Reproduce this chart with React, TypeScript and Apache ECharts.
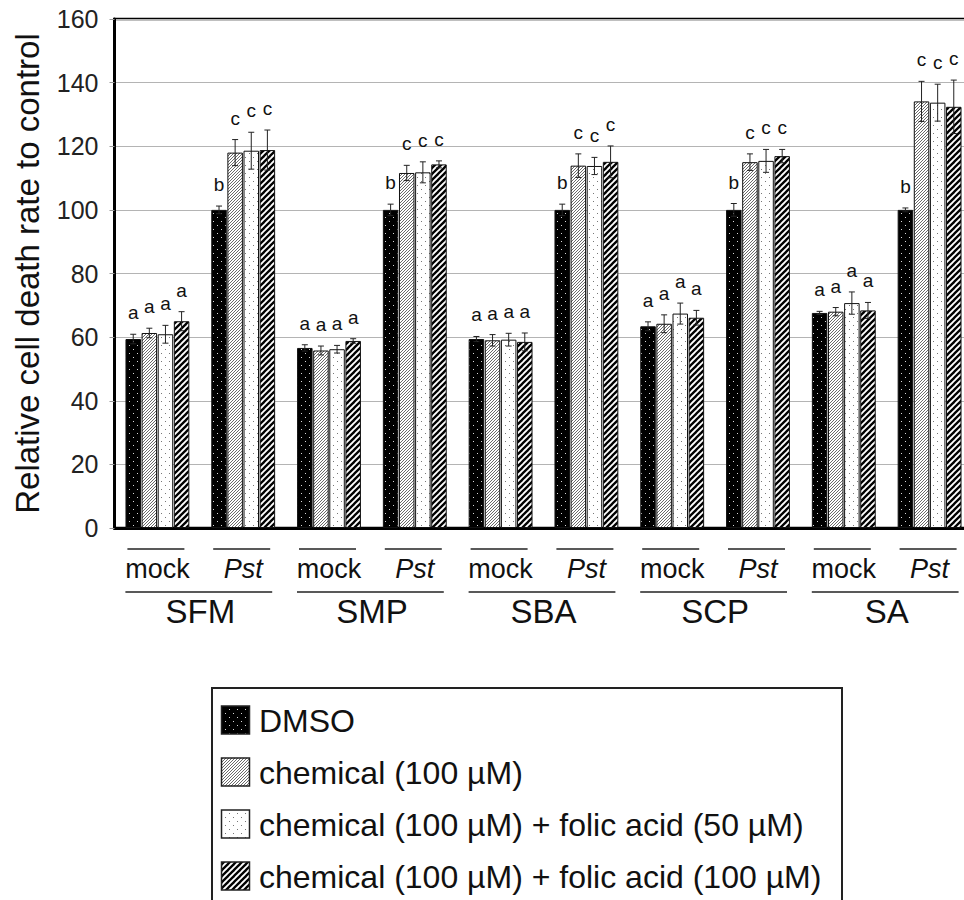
import React, { useEffect, useRef } from 'react';
import * as echarts from 'echarts';

const FONT = '"Liberation Sans", Arial, Helvetica, sans-serif';

const categories = ['mock', 'Pst', 'mock', 'Pst', 'mock', 'Pst', 'mock', 'Pst', 'mock', 'Pst'];
const groups = ['SFM', 'SMP', 'SBA', 'SCP', 'SA'];
const seriesNames = [
  'DMSO',
  'chemical (100 µM)',
  'chemical (100 µM) + folic acid (50 µM)',
  'chemical (100 µM) + folic acid (100 µM)',
];

const dmso = [59.4, 100, 56.6, 100, 59.4, 100, 63.4, 100, 67.6, 100];
const dmsoErr = [1.5, 1.2, 1.0, 1.8, 0.8, 1.8, 1.4, 2.0, 0.5, 0.6];
const chem = [61.3, 118, 55.8, 111.6, 59, 113.9, 64.2, 115, 68, 134.1];
const chemErr = [1.5, 4.1, 1.4, 2.4, 1.8, 3.7, 2.8, 2.6, 1.3, 6.3];
const fa50 = [60.9, 118.6, 56.2, 111.8, 59.2, 113.8, 67.4, 115.4, 70.7, 133.7];
const fa50Err = [2.8, 5.8, 1.2, 3.3, 2.0, 2.7, 3.3, 3.6, 3.5, 5.8];
const fa100 = [65, 118.8, 58.8, 114.3, 58.5, 115.1, 66.1, 116.9, 68.4, 132.4];
const fa100Err = [3.0, 6.3, 0.7, 1.1, 2.8, 5.0, 2.3, 2.1, 2.5, 8.4];

const dmsoLetters = ['a', 'b', 'a', 'b', 'a', 'b', 'a', 'b', 'a', 'b'];
const chemLetters = ['a', 'c', 'a', 'c', 'a', 'c', 'a', 'c', 'a', 'c'];
const fa50Letters = ['a', 'c', 'a', 'c', 'a', 'c', 'a', 'c', 'a', 'c'];
const fa100Letters = ['a', 'c', 'a', 'c', 'a', 'c', 'a', 'c', 'a', 'c'];

const yMin = 0;
const yMax = 160;
const yInterval = 20;

const BAR_W = 15.5;
const BAR_GAP_PX = 0.62;

function makeCanvas(w: number, h: number, draw: (ctx: CanvasRenderingContext2D) => void) {
  const c = document.createElement('canvas');
  c.width = w;
  c.height = h;
  const ctx = c.getContext('2d')!;
  draw(ctx);
  return c;
}

function pattern(c: HTMLCanvasElement) {
  return { image: c, repeat: 'repeat', imageWidth: c.width, imageHeight: c.height } as any;
}

function makePatterns() {
  const dmsoP = makeCanvas(8, 8, (ctx) => {
    ctx.fillStyle = '#000';
    ctx.fillRect(0, 0, 8, 8);
    ctx.fillStyle = '#d8d8d8';
    ctx.fillRect(1, 1, 1, 1);
    ctx.fillRect(5, 5, 1, 1);
  });
  const chemP = makeCanvas(3, 3, (ctx) => {
    ctx.fillStyle = '#fff';
    ctx.fillRect(0, 0, 3, 3);
    ctx.fillStyle = '#6a6a6a';
    for (let i = 0; i < 3; i++) ctx.fillRect(i, 2 - i, 1, 1);
  });
  const fa50P = makeCanvas(8, 8, (ctx) => {
    ctx.fillStyle = '#fff';
    ctx.fillRect(0, 0, 8, 8);
    ctx.fillStyle = '#777';
    ctx.fillRect(1, 1, 1, 1);
    ctx.fillRect(5, 5, 1, 1);
  });
  const fa100P = makeCanvas(6, 6, (ctx) => {
    ctx.fillStyle = '#fff';
    ctx.fillRect(0, 0, 6, 6);
    ctx.strokeStyle = '#000';
    ctx.lineWidth = 2.3;
    for (const k of [-6, 0, 6]) {
      ctx.beginPath();
      ctx.moveTo(k - 1, 7);
      ctx.lineTo(k + 7, -1);
      ctx.stroke();
    }
  });
  return [pattern(dmsoP), pattern(chemP), pattern(fa50P), pattern(fa100P)];
}

function errorSeries(j: number, vals: number[], errs: number[], letters: string[]) {
  return {
    type: 'custom',
    name: seriesNames[j] + ' err',
    xAxisIndex: 0,
    yAxisIndex: 0,
    z: 5,
    clip: false,
    silent: true,
    data: vals.map((v, i) => [i, v, errs[i]]),
    encode: { x: 0, y: 1 },
    renderItem: (params: any, api: any) => {
      const i = api.value(0);
      const v = api.value(1);
      const e = api.value(2);
      const c = api.coord([i, v]);
      const x = c[0] + (j - 1.5) * (BAR_W + BAR_GAP_PX);
      const top = api.coord([i, v + e])[1];
      const bot = api.coord([i, v - e])[1];
      const cap = 3;
      const st = { stroke: '#222', lineWidth: 1 };
      return {
        type: 'group',
        children: [
          { type: 'line', shape: { x1: x, y1: top, x2: x, y2: bot }, style: st },
          { type: 'line', shape: { x1: x - cap, y1: top, x2: x + cap, y2: top }, style: st },
          { type: 'line', shape: { x1: x - cap, y1: bot, x2: x + cap, y2: bot }, style: st },
          {
            type: 'text',
            x: x,
            y: top - 12,
            style: {
              text: letters[i],
              fontSize: 19,
              fontFamily: FONT,
              fill: '#111',
              align: 'center',
              verticalAlign: 'bottom',
            },
          },
        ],
      };
    },
  };
}

export default function App() {
  const ref = useRef<HTMLDivElement>(null);

  useEffect(() => {
    document.body.style.margin = '0';
    if (!ref.current) return;
    const chart = echarts.init(ref.current, undefined, { renderer: 'svg' });
    const pats = makePatterns();
    const values = [dmso, chem, fa50, fa100];
    const errs = [dmsoErr, chemErr, fa50Err, fa100Err];
    const lets = [dmsoLetters, chemLetters, fa50Letters, fa100Letters];

    const barSeries = values.map((vals, j) => ({
      type: 'bar',
      name: seriesNames[j],
      xAxisIndex: 0,
      yAxisIndex: 0,
      data: vals,
      barWidth: BAR_W,
      barGap: ((BAR_GAP_PX / BAR_W) * 100).toFixed(1) + '%',
      itemStyle: { color: pats[j], borderColor: '#111', borderWidth: 1 },
      z: 2,
    }));

    const errSeries = values.map((vals, j) => errorSeries(j, vals, errs[j], lets[j]));

    const lineSeries = {
      type: 'custom',
      name: 'bracket lines',
      xAxisIndex: 0,
      yAxisIndex: 0,
      clip: false,
      silent: true,
      z: 10,
      data: categories.map((_, i) => [i, 0]),
      encode: { x: 0, y: 1 },
      renderItem: (params: any, api: any) => {
        const i = api.value(0);
        const p = api.coord([i, 0]);
        const cx = p[0];
        const y0 = p[1];
        const catW = api.size([1, 0])[0];
        const st = { stroke: '#222', lineWidth: 1.6 };
        const children: any[] = [
          { type: 'line', shape: { x1: cx - 30, y1: y0 + 21, x2: cx + 27, y2: y0 + 21 }, style: st },
        ];
        if (i % 2 === 1) {
          children.push({
            type: 'line',
            shape: { x1: cx - catW - 32, y1: y0 + 64, x2: cx + 29, y2: y0 + 64 },
            style: st,
          });
        }
        return { type: 'group', children };
      },
    };

    const legendChildren: any[] = [
      {
        type: 'rect',
        shape: { x: 212, y: 688, width: 630, height: 240 },
        style: { fill: '#fff', stroke: '#222', lineWidth: 2 },
      },
    ];
    seriesNames.forEach((n, k) => {
      legendChildren.push({
        type: 'rect',
        shape: { x: 221.5, y: 706 + 52 * k, width: 28, height: 28 },
        style: { fill: pats[k], stroke: '#222', lineWidth: 1.5 },
      });
      legendChildren.push({
        type: 'text',
        x: 259,
        y: 721 + 52 * k,
        style: {
          text: n,
          fontSize: 32,
          fontFamily: FONT,
          fill: '#111',
          verticalAlign: 'middle',
          align: 'left',
        },
      });
    });

    chart.setOption({
      animation: false,
      backgroundColor: '#fff',
      grid: {
        left: 114.5,
        top: 19,
        width: 858,
        height: 509,
        show: true,
        borderColor: '#000',
        borderWidth: 2.5,
        backgroundColor: 'transparent',
        containLabel: false,
        outerBoundsMode: 'none',
      },
      xAxis: [
        {
          type: 'category',
          data: categories,
          position: 'bottom',
          axisLine: { show: true, lineStyle: { color: '#000', width: 3 } },
          axisTick: { show: false },
          axisLabel: {
            interval: 0,
            margin: 27,
            fontSize: 27,
            fontFamily: FONT,
            color: '#111',
            formatter: (v: string) => (v === 'Pst' ? '{i|Pst}' : v),
            rich: { i: { fontStyle: 'italic', fontSize: 27, fontFamily: FONT, color: '#111' } },
          },
          splitLine: { show: false },
        },
        {
          type: 'category',
          data: groups,
          position: 'bottom',
          axisLine: { show: false },
          axisTick: { show: false },
          axisLabel: { interval: 0, margin: 67, fontSize: 33, fontFamily: FONT, color: '#111' },
          splitLine: { show: false },
        },
      ],
      yAxis: {
        type: 'value',
        min: yMin,
        max: yMax,
        interval: yInterval,
        name: 'Relative cell death rate to control',
        nameLocation: 'middle',
        nameGap: 71,
        nameTextStyle: { fontSize: 33, fontFamily: FONT, color: '#111' },
        axisLine: { show: true, lineStyle: { color: '#000', width: 3 } },
        axisTick: { show: true, length: 5, lineStyle: { color: '#999' } },
        axisLabel: { margin: 16, fontSize: 25, fontFamily: FONT, color: '#222' },
        splitLine: { show: true, lineStyle: { color: '#b4b4b4', width: 1 } },
      },
      series: [...barSeries, ...errSeries, lineSeries],
      graphic: [{ type: 'group', children: legendChildren }],
    });

    return () => {
      chart.dispose();
    };
  }, []);

  return <div ref={ref} style={{ width: 964, height: 900 }} />;
}
